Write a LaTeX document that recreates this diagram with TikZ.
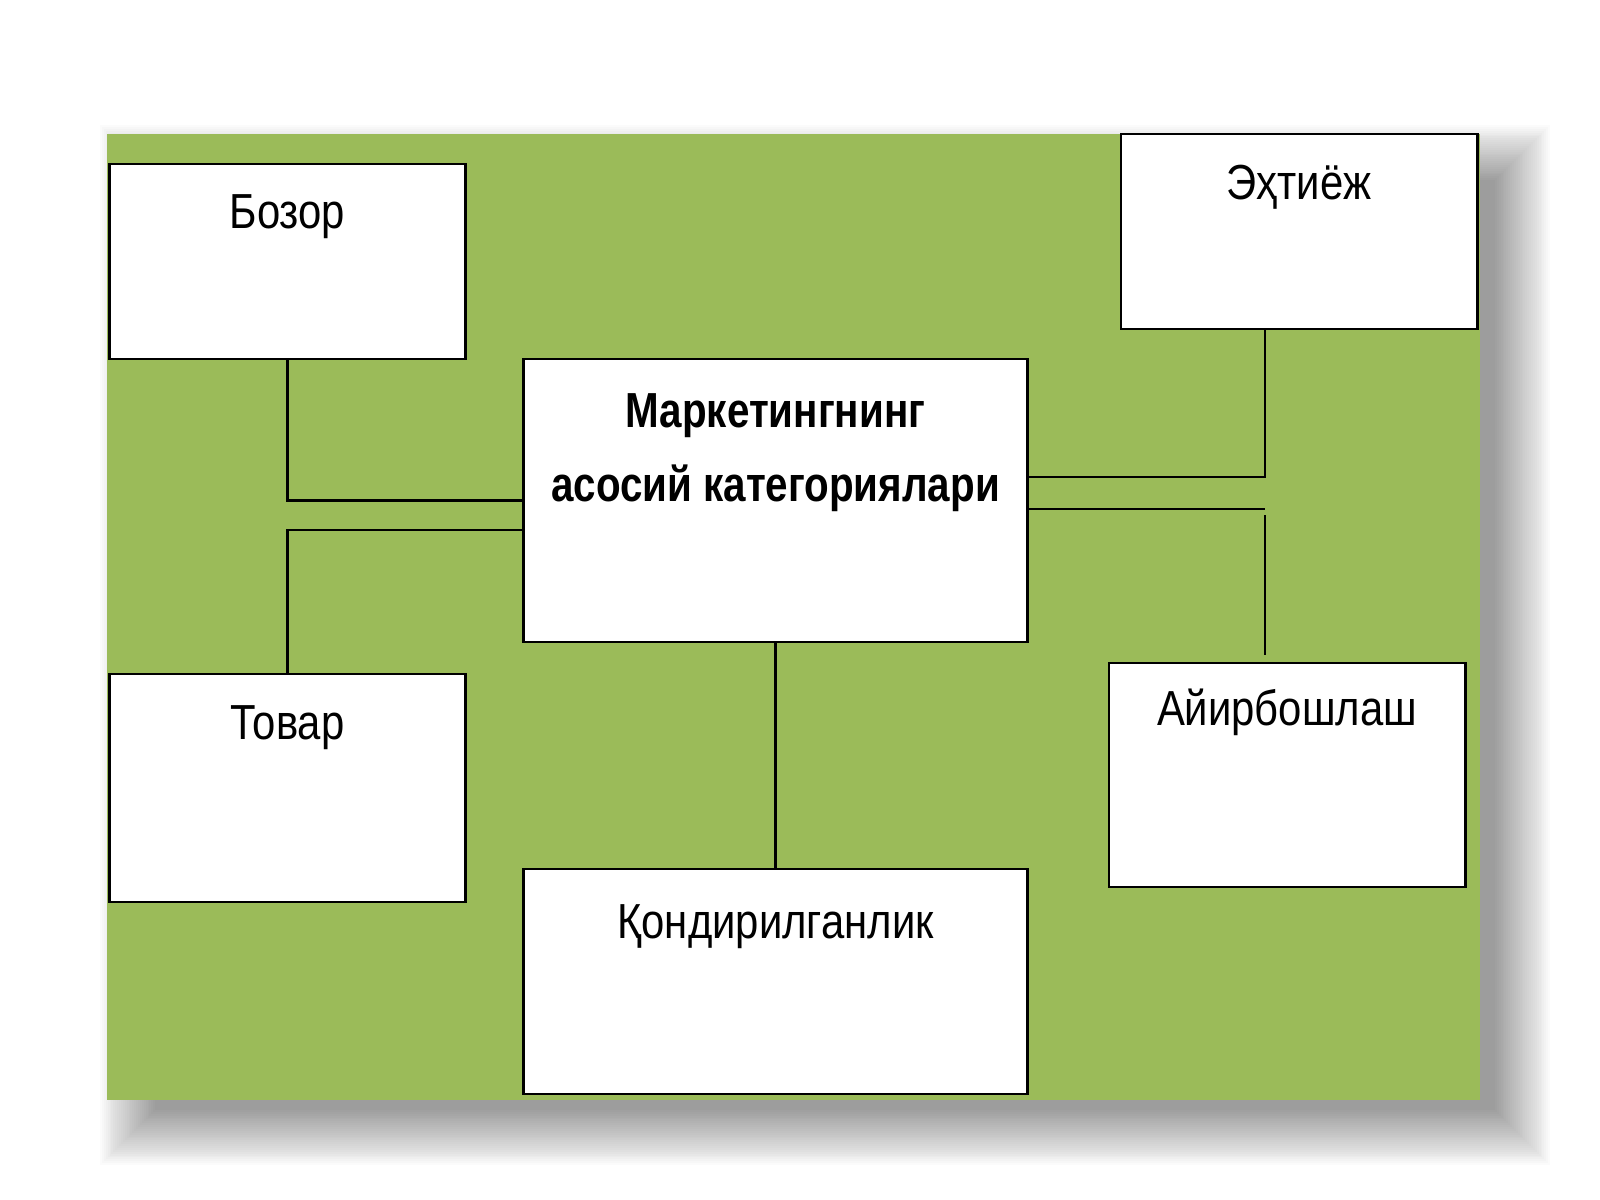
\documentclass[tikz,border=0pt]{standalone}
\usepackage{fontspec}
\setmainfont{Liberation Sans}[FakeStretch=0.85, BoldFeatures={FakeStretch=0.82}]
\definecolor{yashil}{HTML}{9BBB59}
\begin{document}
\begin{tikzpicture}[x=0.01cm, y=-0.01cm,
    katak/.style={draw, line width=0.8pt, fill=white, inner ysep=0pt,
                  align=center, font=\fontsize{14}{21}\selectfont},
    chiziq/.style={line width=0.6pt}]
  \useasboundingbox (0,0) rectangle (1600,1200);
  % soya va fon
  \foreach \r in {0,...,29}
    \fill [black, opacity=0.014] (100+1.9*\r, 125+1.9*\r) rectangle (1550-1.9*\r, 1165-1.9*\r);
  \fill [yashil] (107,134) rectangle (1480,1100);
  % kataklar
  \node (bozor) [katak, minimum width=3.55cm, text height=0.65cm, text depth=1.30cm]
        at (287.5,261.5) {Бозор};
  \node (ehtiyoj) [katak, minimum width=3.56cm, text height=0.66cm, text depth=1.29cm]
        at (1299,231.5) {Эҳтиёж};
  \node (markaz) [katak, minimum width=5.03cm, text height=1.42cm, text depth=1.41cm,
        font=\fontsize{14}{21}\selectfont\bfseries]
        at (775.5,500.5) {Маркетингнинг\\асосий категориялари};
  \node (tovar) [katak, minimum width=3.55cm, text height=0.66cm, text depth=1.62cm]
        at (287.5,788) {Товар};
  \node (ayirbosh) [katak, minimum width=3.56cm, text height=0.63cm, text depth=1.61cm]
        at (1287,775) {Айирбошлаш};
  \node (qondir) [katak, minimum width=5.03cm, text height=0.70cm, text depth=1.55cm]
        at (775.5,981.5) {Қондирилганлик};
  % bog'lanishlar
  \coordinate (ustki) at (1265,329);
  \coordinate (tugun) at (1265,509);
  \coordinate (ostki) at (1265,655);
  \draw [chiziq] (bozor.south) |- (markaz.west)
                 (tovar.north) |- (markaz.west |- 0,530)
                 (markaz.south) -- (qondir.north)
                 (markaz.east |- 0,477) -| (ustki)
                 (markaz.east |- tugun) -- (tugun)
                 (1265,515) -- (ostki);
\end{tikzpicture}
\end{document}
